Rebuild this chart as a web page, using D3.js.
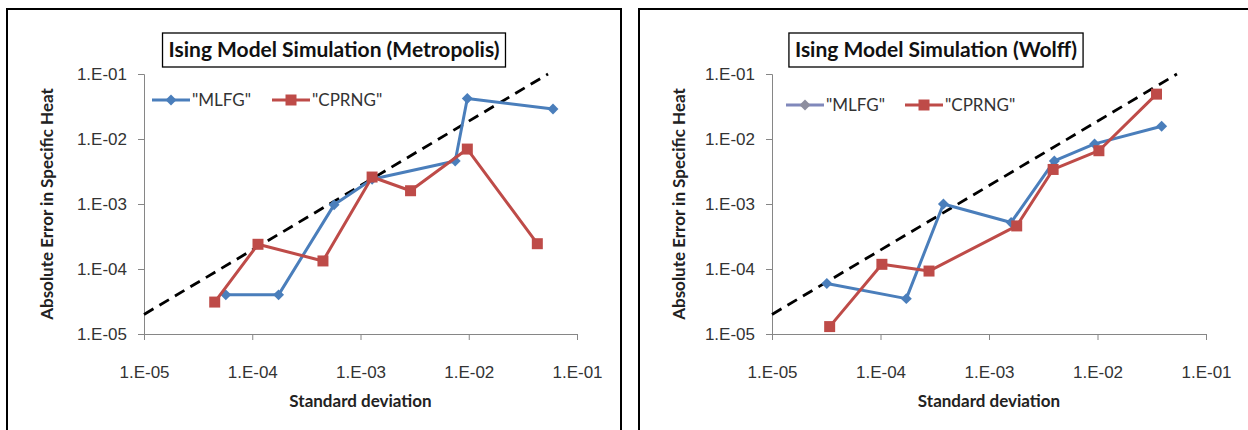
<!DOCTYPE html>
<meta charset="utf-8">
<style>
body { margin: 0; background: #fff; }
svg { font-family: Lato, "Open Sans", sans-serif; }
.axis text { font-size: 17px; fill: #333; }
.axis path, .axis line { stroke: #868686; }
.axisTitle { font-size: 17px; font-weight: bold; fill: #222; }
.chartTitle { font-size: 21px; font-weight: bold; fill: #111; }
.legendLabel { font-size: 17px; fill: #333; }
</style>
<svg width="1248" height="430"></svg>
<script src="https://d3js.org/d3.v7.min.js"></script>
<script>

// shared log ticks, both axes
var tickValues = [1e-5, 1e-4, 1e-3, 1e-2, 1e-1];
var tickLabels = ["1.E-05", "1.E-04", "1.E-03", "1.E-02", "1.E-01"];
var seriesNames = ['"MLFG"', '"CPRNG"'];

// Metropolis panel (x = standard deviation, y = absolute error)
var metroMlfgX  = [5.7e-5, 1.75e-4, 5.7e-4, 1.28e-3, 7.5e-3, 9.7e-3, 6.0e-2];
var metroMlfgY  = [4.0e-5, 4.0e-5, 9.7e-4, 2.4e-3, 4.6e-3, 4.2e-2, 2.9e-2];
var metroCprngX = [4.5e-5, 1.13e-4, 4.5e-4, 1.28e-3, 2.9e-3, 9.7e-3, 4.3e-2];
var metroCprngY = [3.1e-5, 2.4e-4, 1.33e-4, 2.6e-3, 1.6e-3, 7.0e-3, 2.45e-4];

// Wolff panel
var wolffMlfgX  = [3.2e-5, 1.73e-4, 3.8e-4, 1.6e-3, 4.0e-3, 9.4e-3, 3.9e-2];
var wolffMlfgY  = [6.0e-5, 3.5e-5, 1.0e-3, 5.2e-4, 4.6e-3, 8.4e-3, 1.57e-2];
var wolffCprngX = [3.4e-5, 1.03e-4, 2.8e-4, 1.8e-3, 3.9e-3, 1.03e-2, 3.5e-2];
var wolffCprngY = [1.3e-5, 1.18e-4, 9.3e-5, 4.6e-4, 3.4e-3, 6.6e-3, 4.9e-2];

// dashed reference line (y ~ 2x)
var refX = [1e-5, 5.4e-2];
var refY = [2e-5, 1e-1];

var blue = "#4a7ebb", red = "#be4b48";

var panels = [
  { title: "Ising Model Simulation (Metropolis)", frameX: 7, xRange: [144, 577], titleCx: 334,
    legendX: 152, legendY: 100, legendGap: 120, legendBlue: blue, legendDiamond: blue,
    mlfg: [metroMlfgX, metroMlfgY], cprng: [metroCprngX, metroCprngY] },
  { title: "Ising Model Simulation (Wolff)", frameX: 639, xRange: [772, 1206], titleCx: 936,
    legendX: 786, legendY: 105, legendGap: 119, legendBlue: "#8088bb", legendDiamond: "#8e8e9e",
    mlfg: [wolffMlfgX, wolffMlfgY], cprng: [wolffCprngX, wolffCprngY] }
];

var svg = d3.select("svg");
var yRange = [334, 74];

// square turned 45deg = excel diamond
var diamond = d3.symbol().type(d3.symbolSquare).size(60);
var square = d3.symbol().type(d3.symbolSquare).size(121);

function zip(xs, ys) { return xs.map(function(v, i) { return [v, ys[i]]; }); }

panels.forEach(function(p) {
  var g = svg.append("g");

  //panel frame
  g.append("rect")
    .attr("x", p.frameX).attr("y", 9)
    .attr("width", 614).attr("height", 440)
    .attr("fill", "#fff").attr("stroke", "#000").attr("stroke-width", 2);

  var x = d3.scaleLog().domain([1e-5, 1e-1]).range(p.xRange);
  var y = d3.scaleLog().domain([1e-5, 1e-1]).range(yRange);

  g.append("g")
    .attr("class", "axis")
    .attr("transform", "translate(" + p.xRange[0] + ",0)")
    .call(d3.axisLeft(y).tickValues(tickValues)
      .tickFormat(function(d, i) { return tickLabels[i]; })
      .tickSizeOuter(0).tickSize(6).tickPadding(11));

  g.append("g")
    .attr("class", "axis")
    .attr("transform", "translate(0," + yRange[0] + ")")
    .call(d3.axisBottom(x).tickValues(tickValues)
      .tickFormat(function(d, i) { return tickLabels[i]; })
      .tickSizeOuter(0).tickSize(6).tickPadding(26));

  g.selectAll(".axis .domain").attr("stroke", "#868686");

  // axis titles
  g.append("text")
    .attr("class", "axisTitle")
    .attr("text-anchor", "middle")
    .attr("transform", "translate(" + (p.frameX + 40) + "," + d3.mean(yRange) + ") rotate(-90)")
    .attr("dy", "0.35em")
    .text("Absolute Error in Specific Heat");

  g.append("text")
    .attr("class", "axisTitle")
    .attr("text-anchor", "middle")
    .attr("x", d3.mean(p.xRange)).attr("y", 401)
    .attr("dy", "0.35em")
    .text("Standard deviation");

  var line = d3.line().x(function(d) { return x(d[0]); }).y(function(d) { return y(d[1]); });

  // dashed guide
  g.append("path")
    .datum(zip(refX, refY))
    .attr("d", line)
    .attr("fill", "none").attr("stroke", "#000")
    .attr("stroke-width", 2.8).attr("stroke-dasharray", "11,7");

  var series = [
    { pts: zip(p.mlfg[0], p.mlfg[1]), color: blue, sym: diamond, rot: 45 },
    { pts: zip(p.cprng[0], p.cprng[1]), color: red, sym: square, rot: 0 }
  ];

  series.forEach(function(s) {
    g.append("path")
      .datum(s.pts)
      .attr("d", line)
      .attr("fill", "none").attr("stroke", s.color)
      .attr("stroke-width", 3).attr("stroke-linejoin", "round");
    g.selectAll(null)
      .data(s.pts)
      .enter().append("path")
      .attr("d", s.sym)
      .attr("transform", function(d) { return "translate(" + x(d[0]) + "," + y(d[1]) + ") rotate(" + s.rot + ")"; })
      .attr("fill", s.color);
  });

  // legend
  var lg = g.append("g").attr("transform", "translate(" + p.legendX + "," + p.legendY + ")");
  var items = [
    { name: seriesNames[0], line: p.legendBlue, mark: p.legendDiamond, sym: diamond, rot: 45 },
    { name: seriesNames[1], line: red, mark: red, sym: square, rot: 0 }
  ];
  items.forEach(function(it, i) {
    var ig = lg.append("g").attr("transform", "translate(" + i * p.legendGap + ",0)");
    ig.append("line").attr("x1", 0).attr("x2", 38)
      .attr("stroke", it.line).attr("stroke-width", 3);
    ig.append("path").attr("d", it.sym)
      .attr("transform", "translate(19,0) rotate(" + it.rot + ")")
      .attr("fill", it.mark);
    ig.append("text").attr("class", "legendLabel")
      .attr("x", 40).attr("dy", "0.35em")
      .text(it.name);
  });

  // title with box
  var t = g.append("text")
    .attr("class", "chartTitle")
    .attr("text-anchor", "middle")
    .attr("x", p.titleCx).attr("y", 50)
    .attr("dy", "0.35em")
    .text(p.title);
  var bb = t.node().getBBox();
  g.insert("rect", "text.chartTitle")
    .attr("x", bb.x - 6).attr("y", 33)
    .attr("width", bb.width + 12).attr("height", 34)
    .attr("fill", "#fff").attr("stroke", "#000").attr("stroke-width", 1.3);
});

</script>
